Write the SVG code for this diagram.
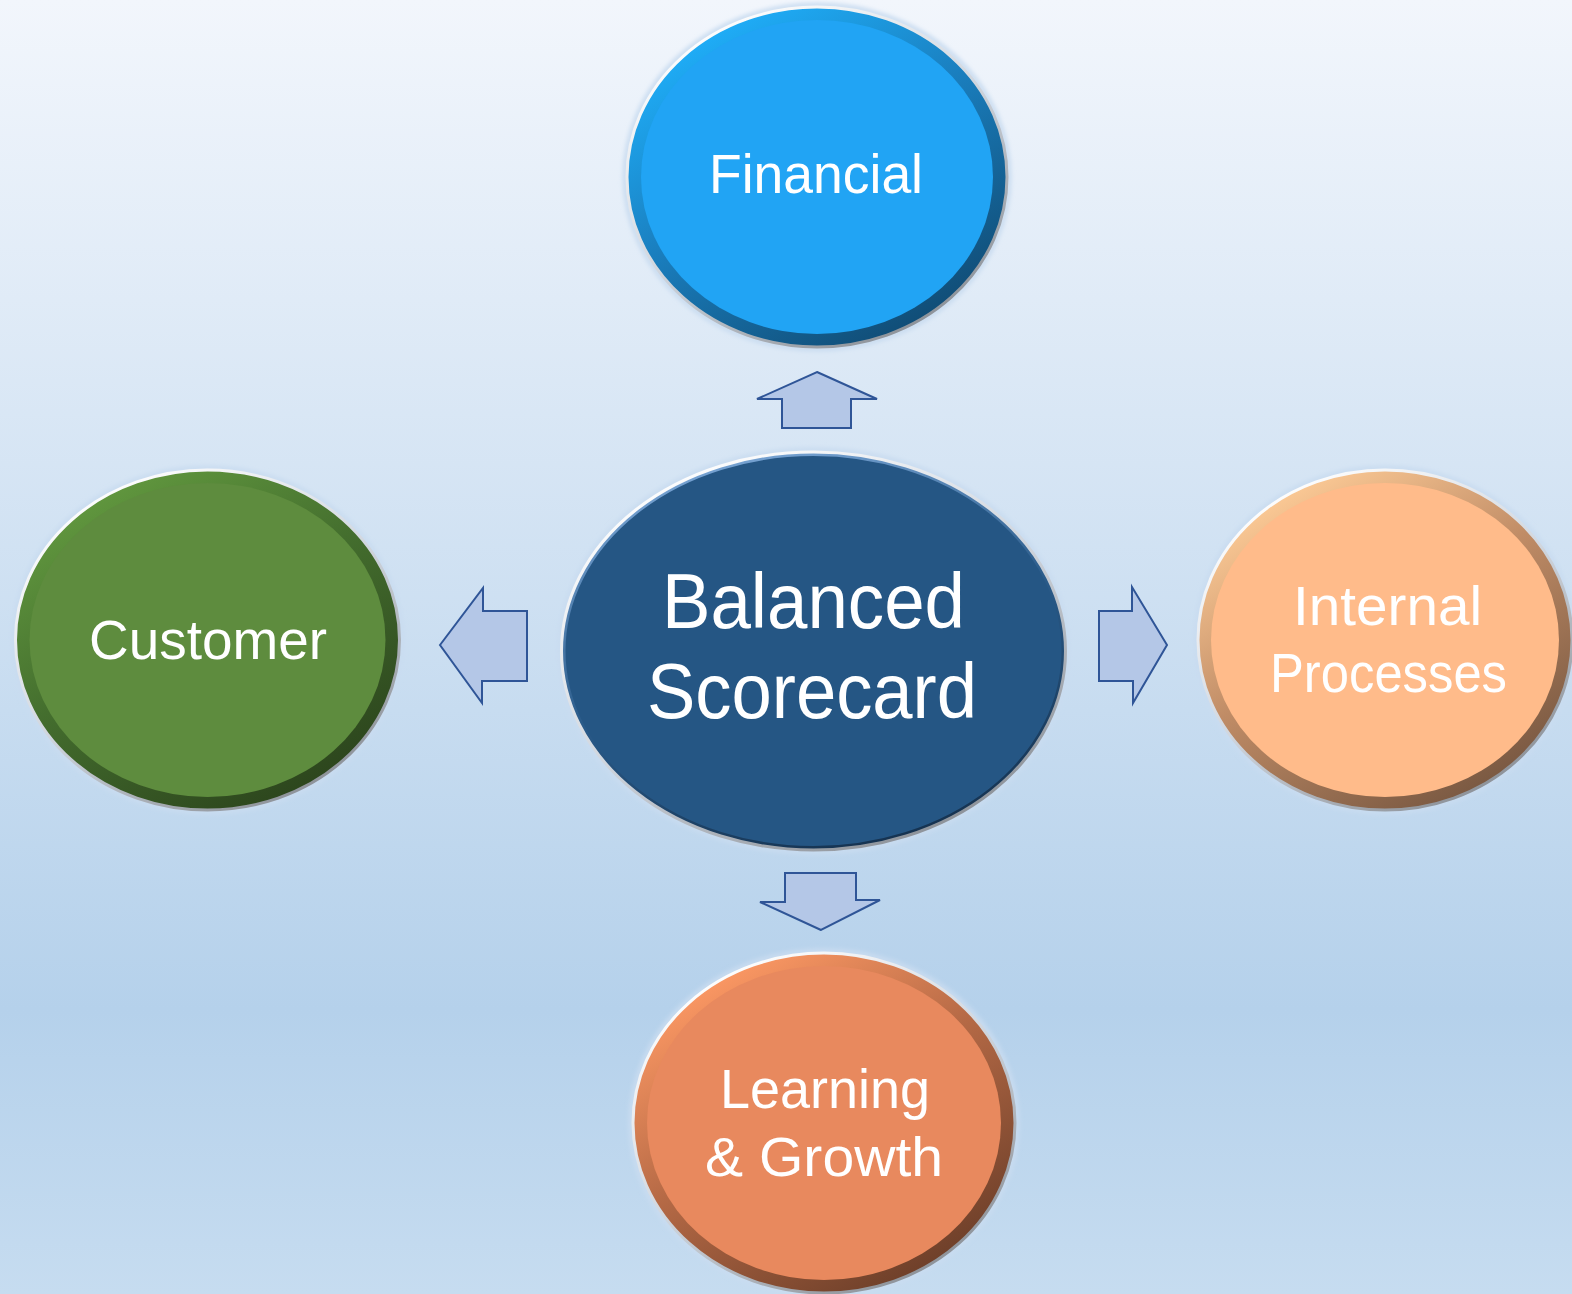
<svg xmlns="http://www.w3.org/2000/svg" width="1572" height="1294" viewBox="0 0 1572 1294">
  <defs>
    <linearGradient id="bg" x1="0" y1="0" x2="0" y2="1">
      <stop offset="0" stop-color="#f2f6fc"/>
      <stop offset="0.78" stop-color="#b5d1eb"/>
      <stop offset="1" stop-color="#c6dcf0"/>
    </linearGradient>
    <linearGradient id="edge" x1="0.2" y1="0.05" x2="0.8" y2="0.95">
      <stop offset="0" stop-color="#ffffff"/>
      <stop offset="0.5" stop-color="#d0d6de"/>
      <stop offset="1" stop-color="#8a8f96"/>
    </linearGradient>
    <linearGradient id="gFin" x1="0.2" y1="0.05" x2="0.8" y2="0.95">
      <stop offset="0" stop-color="#1fb0fb"/>
      <stop offset="0.45" stop-color="#1a7fbf"/>
      <stop offset="1" stop-color="#104a72"/>
    </linearGradient>
    <linearGradient id="gCus" x1="0.2" y1="0.05" x2="0.8" y2="0.95">
      <stop offset="0" stop-color="#62993f"/>
      <stop offset="0.45" stop-color="#446e2e"/>
      <stop offset="1" stop-color="#2b431c"/>
    </linearGradient>
    <linearGradient id="gInt" x1="0.2" y1="0.05" x2="0.8" y2="0.95">
      <stop offset="0" stop-color="#ffcd98"/>
      <stop offset="0.45" stop-color="#c08c66"/>
      <stop offset="1" stop-color="#765640"/>
    </linearGradient>
    <linearGradient id="gLea" x1="0.2" y1="0.05" x2="0.8" y2="0.95">
      <stop offset="0" stop-color="#ff9a65"/>
      <stop offset="0.45" stop-color="#b66a46"/>
      <stop offset="1" stop-color="#6a3d28"/>
    </linearGradient>
    <linearGradient id="gBal" x1="0.3" y1="0" x2="0.7" y2="1">
      <stop offset="0" stop-color="#7aa6d6"/>
      <stop offset="0.5" stop-color="#2a5b8a"/>
      <stop offset="1" stop-color="#14304d"/>
    </linearGradient>
    <filter id="glow" x="-10%" y="-10%" width="120%" height="120%">
      <feGaussianBlur stdDeviation="2"/>
    </filter>
  </defs>
  <style>
    .lbl { font-family: "Liberation Sans", Arial, sans-serif; fill: #ffffff; text-anchor: middle; }
    .s56 { font-size: 56px; }
    .s78 { font-size: 78px; }
    .arrow { fill: #b4c7e7; stroke: #2f5597; stroke-width: 2; stroke-linejoin: miter; }
    .edge { fill: none; stroke: url(#edge); stroke-width: 3; }
    .halo { fill: none; stroke: #c9dcf0; stroke-width: 5; filter: url(#glow); }
  </style>

  <rect x="0" y="0" width="1572" height="1294" fill="url(#bg)"/>

  <g id="connectors">
    <polygon class="arrow" points="817,372 877,399 851,399 851,428 782,428 782,399 757,399"/>
    <polygon class="arrow" points="440,645 483,588 483,611 527,611 527,681 482,681 482,703"/>
    <polygon class="arrow" points="1167,645 1132,587 1132,611 1099,611 1099,681 1133,681 1133,703"/>
    <polygon class="arrow" points="821,930 760,902 785,902 785,873 856,873 856,900 880,900"/>
  </g>

  <g id="node-financial">
    <ellipse class="halo" cx="817" cy="177" rx="192" ry="172"/>
    <ellipse cx="817" cy="177" rx="190" ry="170" fill="url(#gFin)"/>
    <ellipse cx="817" cy="177" rx="176" ry="157" fill="#21a4f4"/>
    <ellipse class="edge" cx="817" cy="177" rx="190" ry="170"/>
    <text class="lbl s56" x="816" y="193" textLength="214" lengthAdjust="spacingAndGlyphs">Financial</text>
  </g>

  <g id="node-balanced">
    <ellipse class="halo" cx="813.5" cy="651" rx="254" ry="201"/>
    <ellipse cx="813.5" cy="651" rx="252" ry="199" fill="#255684"/>
    <ellipse cx="813.5" cy="651" rx="250" ry="197" fill="none" stroke="url(#gBal)" stroke-width="4"/>
    <ellipse class="edge" cx="813.5" cy="651" rx="252" ry="199"/>
    <text class="lbl s78" x="813.5" y="628" textLength="303" lengthAdjust="spacingAndGlyphs">Balanced</text>
    <text class="lbl s78" x="812" y="718" textLength="330" lengthAdjust="spacingAndGlyphs">Scorecard</text>
  </g>

  <g id="node-customer">
    <ellipse class="halo" cx="207.5" cy="640" rx="194" ry="172"/>
    <ellipse cx="207.5" cy="640" rx="192" ry="170" fill="url(#gCus)"/>
    <ellipse cx="207.5" cy="640" rx="178" ry="157" fill="#5e8c3e"/>
    <ellipse class="edge" cx="207.5" cy="640" rx="192" ry="170"/>
    <text class="lbl s56" x="208" y="659" textLength="238" lengthAdjust="spacingAndGlyphs">Customer</text>
  </g>

  <g id="node-internal">
    <ellipse class="halo" cx="1385" cy="640" rx="189" ry="172"/>
    <ellipse cx="1385" cy="640" rx="187" ry="170" fill="url(#gInt)"/>
    <ellipse cx="1385" cy="640" rx="174" ry="157" fill="#ffbb8a"/>
    <ellipse class="edge" cx="1385" cy="640" rx="187" ry="170"/>
    <text class="lbl s56" x="1387.5" y="625" textLength="189" lengthAdjust="spacingAndGlyphs">Internal</text>
    <text class="lbl s56" x="1388.5" y="692" textLength="237" lengthAdjust="spacingAndGlyphs">Processes</text>
  </g>

  <g id="node-learning">
    <ellipse class="halo" cx="824" cy="1123" rx="193" ry="172"/>
    <ellipse cx="824" cy="1123" rx="191" ry="170" fill="url(#gLea)"/>
    <ellipse cx="824" cy="1123" rx="177" ry="157" fill="#e8895e"/>
    <ellipse class="edge" cx="824" cy="1123" rx="191" ry="170"/>
    <text class="lbl s56" x="825" y="1108" textLength="210" lengthAdjust="spacingAndGlyphs">Learning</text>
    <text class="lbl s56" x="824" y="1176" textLength="238" lengthAdjust="spacingAndGlyphs">&amp; Growth</text>
  </g>
</svg>
